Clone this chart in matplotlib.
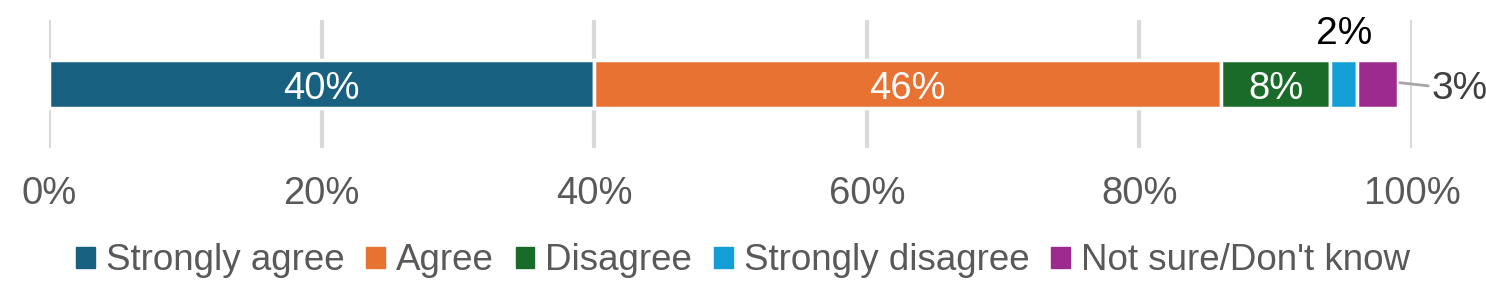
import matplotlib.pyplot as plt
import numpy as np

plt.rcParams['font.family'] = ['Liberation Sans', 'DejaVu Sans']

categories = ['Strongly agree', 'Agree', 'Disagree', 'Strongly disagree', "Not sure/Don't know"]
values = [40, 46, 8, 2, 3]
colors = ['#17607f', '#e87232', '#1a6b29', '#139fd6', '#9c2a8f']
tick_vals = [0, 20, 40, 60, 80, 100]

fig = plt.figure(figsize=(14.86, 2.98), dpi=100)
ax = fig.add_axes([49/1486, 150/298, (1412-49)/1486, 128/298])

left = 0
for cat, val, col in zip(categories, values, colors):
    ax.barh(0, val, left=left, height=0.38, color=col, edgecolor='white',
            linewidth=2.5, label=cat, zorder=3)
    left += val

# labels inside the bigger segments
left = 0
for val in values:
    if val >= 5:
        ax.text(left + val/2, -0.01, '%d%%' % val, ha='center', va='center_baseline',
                color='white', fontsize=27.5, zorder=4)
    left += val

# small segments get outside labels
x_sd = sum(values[:3]) + values[3]/2
ax.text(x_sd, 0.42, '%d%%' % values[3], ha='center', va='center_baseline',
        color='black', fontsize=28, clip_on=False)
x_ns = sum(values)
ax.annotate('%d%%' % values[4], xy=(x_ns + 0.1, 0.01), xytext=(x_ns + 2.4, -0.01),
            ha='left', va='center_baseline', color='#404040', fontsize=28,
            arrowprops=dict(arrowstyle='-', color='#a6a6a6', lw=2,
                            shrinkA=0, shrinkB=0),
            annotation_clip=False)

ax.set_xlim(0, 100)
ax.set_ylim(-0.5, 0.5)
ax.set_xticks(tick_vals)
ax.set_xticklabels(['%d%%' % t for t in tick_vals])
ax.set_yticks([])
ax.tick_params(axis='x', length=0, labelsize=27.5, labelcolor='#595959', pad=20)
ax.grid(axis='x', color='#d9d9d9', linewidth=3, zorder=0)
for s in ax.spines.values():
    s.set_visible(False)

handles = [plt.Rectangle((0, 0), 1, 1, color=c) for c in colors]
leg = fig.legend(handles, categories, loc='center', bbox_to_anchor=(0.5, 1 - 261/298),
                 ncol=5, frameon=False, fontsize=26.5, handlelength=0.5, handleheight=0.5,
                 handletextpad=0.3, columnspacing=0.6, borderaxespad=0)
for t in leg.get_texts():
    t.set_color('#595959')

fig.savefig('out.png', dpi=100)
